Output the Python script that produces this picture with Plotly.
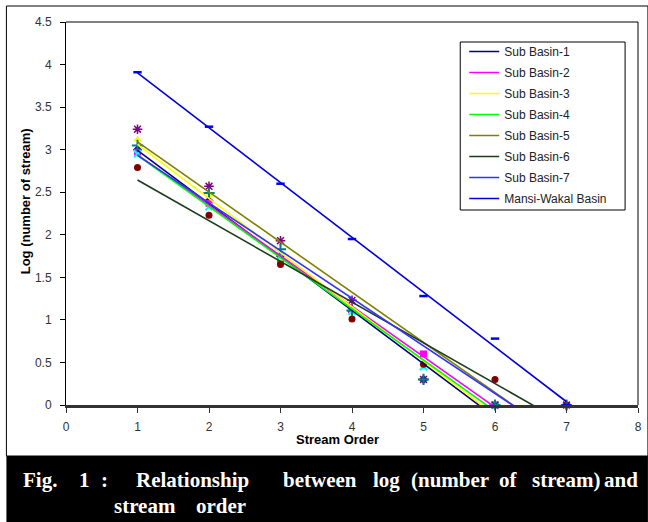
import numpy as np
import plotly.graph_objects as go

# ---------------- data ----------------
stream_order = [1, 2, 3, 4, 5, 6, 7]

series_names = ["Sub Basin-1", "Sub Basin-2", "Sub Basin-3", "Sub Basin-4",
                "Sub Basin-5", "Sub Basin-6", "Sub Basin-7", "Mansi-Wakal Basin"]

sub_basin_1 = [3.00, 2.40, 1.75, 1.10, 0.30, 0.00]
sub_basin_2 = [2.97, 2.37, 1.70, 1.10, 0.60, 0.00]
sub_basin_3 = [3.12, 2.46, 1.72, 1.08, 0.45, 0.00]
sub_basin_4 = [2.95, 2.33, 1.75, 1.10, 0.45, 0.00]
sub_basin_5 = [3.24, 2.57, 1.93, 1.23, 0.30, 0.00, 0.00]
sub_basin_6 = [2.79, 2.23, 1.65, 1.01, 0.48, 0.30, 0.00]
sub_basin_7 = [3.05, 2.49, 1.83, 1.11, 0.30, 0.00, 0.00]
mansi_wakal = [3.91, 3.27, 2.60, 1.95, 1.28, 0.78, 0.00]

x_ticks = [0, 1, 2, 3, 4, 5, 6, 7, 8]
y_ticks = [0, 0.5, 1, 1.5, 2, 2.5, 3, 3.5, 4, 4.5]
x_title = "Stream Order"
y_title = "Log (number of stream)"
caption_label = ["Fig.", "1", ":"]
caption_line1 = ["Relationship", "between", "log", "(number", "of", "stream)", "and"]
caption_line2 = ["stream", "order"]

# ---------------- styles ----------------
all_series = [sub_basin_1, sub_basin_2, sub_basin_3, sub_basin_4,
              sub_basin_5, sub_basin_6, sub_basin_7, mansi_wakal]
line_colors = ["#000080", "#FF00FF", "#FFFF00", "#00FF00",
               "#808000", "#1a3d1a", "#3333FF", "#0000DD"]
marker_styles = [
    dict(symbol="diamond", color="#000080", size=7),
    dict(symbol="square", color="#FF00FF", size=7),
    dict(symbol="triangle-up", color="#FFFF00", size=8),
    dict(symbol="x-thin-open", color="#00FFFF", size=7, line=dict(width=2, color="#00FFFF")),
    dict(symbol="asterisk-open", color="#800080", size=8, line=dict(width=1.5, color="#800080")),
    dict(symbol="circle", color="#800000", size=7),
    dict(symbol="cross-thin-open", color="#008080", size=8, line=dict(width=2, color="#008080")),
    dict(symbol="line-ew-open", color="#0000FF", size=6, line=dict(width=2.5, color="#0000FF")),
]

W, H = 648, 522
L, R, T, B = 66, 6, 22, 117
PW, PH = W - L - R, H - T - B


def px2x(px):
    return (px - L) / PW


def py2y(py):
    return (H - B - py) / PH


fig = go.Figure()

# data markers
for vals, ms in zip(all_series, marker_styles):
    xs = stream_order[:len(vals)]
    fig.add_trace(go.Scatter(x=xs, y=vals, mode="markers", marker=ms,
                             showlegend=False, hoverinfo="x+y", cliponaxis=False))

# linear trendlines (least squares over each series' points)
for i, (name, vals, col) in enumerate(zip(series_names, all_series, line_colors)):
    xs = np.array(stream_order[:len(vals)], dtype=float)
    slope, intercept = np.polyfit(xs, np.array(vals), 1)
    xt = np.array([xs.min(), xs.max()])
    fig.add_trace(go.Scatter(x=xt, y=slope * xt + intercept, mode="lines", name=name,
                             line=dict(color=col, width=1.6),
                             legendgroup=f"g{i}"))

font_axis = "Liberation Sans, Arial, sans-serif"

fig.update_layout(
    width=W, height=H,
    margin=dict(l=L, r=R, t=T, b=B, pad=0),
    paper_bgcolor="white", plot_bgcolor="white",
    font=dict(family=font_axis, size=12, color="#222"),
    xaxis=dict(range=[0, 8], tickvals=x_ticks, ticks="outside", ticklen=5,
               tickcolor="#333", showgrid=False, zeroline=False,
               showline=True, linecolor="#333", linewidth=2.5,
               tickfont=dict(size=12, color="#333"), ticklabelstandoff=4),
    yaxis=dict(range=[0, 4.5], tickvals=y_ticks, ticks="outside", ticklen=5,
               tickcolor="#000", showgrid=False, zeroline=False,
               showline=True, linecolor="#000", linewidth=1,
               tickfont=dict(size=12, color="#333"), ticklabelstandoff=6),
    legend=dict(x=px2x(467), y=py2y(37), xanchor="left", yanchor="top",
                borderwidth=0, bgcolor="rgba(0,0,0,0)",
                font=dict(size=12, color="#222", family=font_axis),
                tracegroupgap=2),
    showlegend=True,
)

shapes = [
    # top & right border of plot area
    dict(type="line", xref="paper", yref="paper", x0=0, x1=1, y0=1, y1=1,
         line=dict(color="#000", width=1)),
    dict(type="line", xref="paper", yref="paper", x0=1, x1=1, y0=0, y1=1,
         line=dict(color="#000", width=1)),
    # outer frame
    dict(type="rect", xref="paper", yref="paper", x0=px2x(6), x1=px2x(652),
         y0=py2y(456), y1=py2y(6), line=dict(color="#000", width=1), layer="below"),
    # legend box
    dict(type="rect", xref="paper", yref="paper", x0=px2x(463), x1=px2x(629),
         y0=py2y(210), y1=py2y(42), line=dict(color="#000", width=1),
         fillcolor="white", layer="above"),
    # caption band
    dict(type="rect", xref="paper", yref="paper", x0=px2x(6), x1=px2x(652),
         y0=py2y(524), y1=py2y(456), line=dict(width=0), fillcolor="#000"),
]
fig.update_layout(shapes=shapes)

ann = []
ann.append(dict(text=f"<b>{y_title}</b>", xref="paper", yref="paper", x=px2x(25), y=py2y(201),
                xanchor="center", yanchor="middle",
                showarrow=False, textangle=-90, font=dict(size=13, color="#000", family=font_axis)))
ann.append(dict(text=f"<b>{x_title}</b>", xref="paper", yref="paper", x=px2x(339), y=py2y(439),
                xanchor="center", yanchor="middle",
                showarrow=False, font=dict(size=13, color="#000", family=font_axis)))

serif = "Liberation Serif, Times New Roman, serif"
cap_font = dict(size=21, color="#fff", family=serif)
for words, centers, yc in [(caption_label, [40, 85, 105], 480),
                           (caption_line1, [193, 322, 389, 453, 512, 569, 625], 480),
                           (caption_line2, [146, 222], 506)]:
    for word, xc in zip(words, centers):
        ann.append(dict(text=f"<b>{word}</b>", xref="paper", yref="paper", x=px2x(xc), y=py2y(yc),
                        xanchor="center", yanchor="middle", showarrow=False, font=cap_font))
fig.update_layout(annotations=ann)

fig.write_html("out.html", config={"displayModeBar": False},
               post_script="document.body.style.margin='0';")
